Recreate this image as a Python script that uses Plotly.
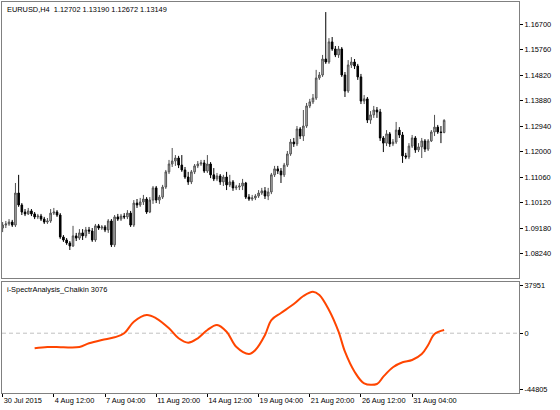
import plotly.graph_objects as go

# ---- data (EURUSD H4, bar index 0 = 30 Jul 2015 20:00) ----
bar_index = list(range(139))
opens = [1.0918,1.0929,1.0933,1.0940,1.0929,1.1047,1.1003,1.0977,1.0970,1.0981,
         1.0970,1.0959,1.0962,1.0951,1.0940,1.0944,1.0973,1.0977,1.0966,1.0885,
         1.0874,1.0863,1.0852,1.0889,1.0881,1.0900,1.0889,1.0911,1.0907,1.0874,
         1.0926,1.0918,1.0922,1.0911,1.0944,1.0856,1.0959,1.0951,1.0962,1.0959,
         1.0973,1.0929,1.1010,1.1003,1.1014,1.1025,1.0977,1.1021,1.1066,1.1021,
         1.1032,1.1069,1.1125,1.1154,1.1165,1.1176,1.1150,1.1132,1.1106,1.1088,
         1.1125,1.1147,1.1154,1.1158,1.1128,1.1154,1.1114,1.1099,1.1110,1.1088,
         1.1106,1.1077,1.1088,1.1066,1.1069,1.1073,1.1084,1.1032,1.1025,1.1029,
         1.1036,1.1047,1.1055,1.1036,1.1051,1.1114,1.1136,1.1128,1.1114,1.1150,
         1.1191,1.1235,1.1228,1.1283,1.1257,1.1294,1.1368,1.1383,1.1397,1.1471,
         1.1482,1.1541,1.1530,1.1604,1.1578,1.1556,1.1578,1.1482,1.1423,1.1519,
         1.1530,1.1515,1.1475,1.1386,1.1394,1.1316,1.1335,1.1353,1.1346,1.1250,
         1.1231,1.1265,1.1228,1.1235,1.1279,1.1261,1.1184,1.1180,1.1220,1.1250,
         1.1206,1.1217,1.1239,1.1209,1.1239,1.1272,1.1290,1.1272,1.12702]
highs = [1.0940,1.0944,1.0951,1.0948,1.1084,1.1114,1.1010,1.0988,1.0992,1.0988,
         1.0977,1.0970,1.0970,1.0959,1.0955,1.0988,1.0992,1.0984,1.0973,1.0892,
         1.0881,1.0870,1.0926,1.0900,1.0914,1.0914,1.0922,1.0922,1.0918,1.0933,
         1.0933,1.0929,1.0929,1.0951,1.0951,1.0966,1.0970,1.0970,1.0973,1.0984,
         1.0981,1.1021,1.1025,1.1029,1.1040,1.1032,1.1032,1.1073,1.1073,1.1040,
         1.1077,1.1132,1.1169,1.1213,1.1187,1.1184,1.1187,1.1143,1.1125,1.1132,
         1.1154,1.1165,1.1169,1.1169,1.1187,1.1161,1.1139,1.1121,1.1117,1.1114,
         1.1125,1.1114,1.1095,1.1077,1.1084,1.1099,1.1088,1.1043,1.1040,1.1043,
         1.1058,1.1066,1.1069,1.1066,1.1121,1.1147,1.1147,1.1139,1.1158,1.1202,
         1.1246,1.1250,1.1294,1.1290,1.1353,1.1379,1.1394,1.1412,1.1501,1.1493,
         1.1556,1.1714,1.1618,1.1622,1.1589,1.1589,1.1585,1.1493,1.1537,1.1548,
         1.1541,1.1523,1.1486,1.1408,1.1401,1.1349,1.1368,1.1364,1.1357,1.1257,
         1.1279,1.1272,1.1246,1.1309,1.1290,1.1272,1.1195,1.1231,1.1261,1.1257,
         1.1231,1.1250,1.1246,1.1246,1.1279,1.1335,1.1298,1.1294,1.13190]
lows = [1.0903,1.0918,1.0926,1.0922,1.0922,1.0996,1.0966,1.0962,1.0966,1.0962,
        1.0951,1.0951,1.0944,1.0933,1.0933,1.0937,1.0966,1.0959,1.0878,1.0867,
        1.0856,1.0837,1.0848,1.0870,1.0874,1.0874,1.0881,1.0896,1.0867,1.0867,
        1.0911,1.0911,1.0903,1.0900,1.0848,1.0848,1.0944,1.0944,1.0951,1.0951,
        1.0922,1.0922,1.0992,1.0996,1.1003,1.0970,1.0973,1.1007,1.1010,1.1007,
        1.1025,1.1062,1.1117,1.1143,1.1147,1.1139,1.1125,1.1099,1.1077,1.1080,
        1.1117,1.1139,1.1147,1.1121,1.1121,1.1102,1.1091,1.1091,1.1077,1.1073,
        1.1058,1.1069,1.1055,1.1058,1.1058,1.1058,1.1025,1.1018,1.1018,1.1021,
        1.1029,1.1040,1.1025,1.1021,1.1043,1.1106,1.1117,1.1084,1.1106,1.1143,
        1.1184,1.1217,1.1220,1.1246,1.1239,1.1287,1.1360,1.1375,1.1390,1.1464,
        1.1475,1.1523,1.1523,1.1571,1.1548,1.1545,1.1475,1.1401,1.1416,1.1508,
        1.1504,1.1464,1.1375,1.1375,1.1305,1.1302,1.1324,1.1324,1.1239,1.1198,
        1.1220,1.1217,1.1220,1.1228,1.1250,1.1158,1.1172,1.1172,1.1213,1.1195,
        1.1198,1.1176,1.1198,1.1202,1.1235,1.1257,1.1265,1.1231,1.12672]
closes = [1.0929,1.0933,1.0940,1.0929,1.1047,1.1003,1.0977,1.0970,1.0981,1.0970,
          1.0959,1.0962,1.0951,1.0940,1.0944,1.0973,1.0977,1.0966,1.0885,1.0874,
          1.0863,1.0852,1.0889,1.0881,1.0900,1.0889,1.0911,1.0907,1.0874,1.0926,
          1.0918,1.0922,1.0911,1.0944,1.0856,1.0959,1.0951,1.0962,1.0959,1.0973,
          1.0929,1.1010,1.1003,1.1014,1.1025,1.0977,1.1021,1.1066,1.1021,1.1032,
          1.1069,1.1125,1.1154,1.1165,1.1176,1.1150,1.1132,1.1106,1.1088,1.1125,
          1.1147,1.1154,1.1158,1.1128,1.1154,1.1114,1.1099,1.1110,1.1088,1.1106,
          1.1077,1.1088,1.1066,1.1069,1.1073,1.1084,1.1032,1.1025,1.1029,1.1036,
          1.1047,1.1055,1.1036,1.1051,1.1114,1.1136,1.1128,1.1114,1.1150,1.1191,
          1.1235,1.1228,1.1283,1.1257,1.1294,1.1368,1.1383,1.1397,1.1471,1.1482,
          1.1541,1.1530,1.1604,1.1578,1.1556,1.1578,1.1482,1.1423,1.1519,1.1530,
          1.1515,1.1475,1.1386,1.1394,1.1316,1.1335,1.1353,1.1346,1.1250,1.1231,
          1.1265,1.1228,1.1235,1.1279,1.1261,1.1184,1.1180,1.1220,1.1250,1.1206,
          1.1217,1.1239,1.1209,1.1239,1.1272,1.1290,1.1272,1.1270,1.13149]

ind_index = [10,14,19,24,27,31,35,38,41,45,48,52,55,58,61,64,67,70,73,77,79,82,84,
             87,91,94,97,99,102,105,107,110,113,117,119,122,125,128,131,133,135,138]
ind_values = [-12035,-10999,-11238,-10999,-8050,-5420,-3268,-80,9166,14505,11875,
              3905,-4065,-7572,-4065,2550,6535,1196,-10760,-16578,-13390,-1435,
              10520,16100,23272,29648,33076,30445,18490,1196,-14745,-30685,-39930,
              -40488,-34670,-27178,-23193,-21360,-16578,-9405,-638,2550]

time_tick_index = [0, 16, 32, 48, 64, 80, 96, 112, 128]
time_tick_text = ["30 Jul 2015", "4 Aug 12:00", "7 Aug 04:00", "11 Aug 20:00",
                  "14 Aug 12:00", "19 Aug 04:00", "21 Aug 20:00", "26 Aug 12:00",
                  "31 Aug 04:00"]
price_ticks = [1.16700, 1.15760, 1.14820, 1.13880, 1.12940,
               1.12000, 1.11060, 1.10120, 1.09180, 1.08240]
ind_ticks = [37951, 0, -44805]

header_text = "EURUSD,H4  1.12702 1.13190 1.12672 1.13149"
ind_title = "i-SpectrAnalysis_Chaikin 3076"

FONT = "Liberation Sans"
FS = 7.4
frame = "#808080"

fig = go.Figure()
fig.add_trace(go.Candlestick(
    x=bar_index, open=opens, high=highs, low=lows, close=closes,
    increasing=dict(line=dict(color="#505050", width=1), fillcolor="#c0c0c0"),
    decreasing=dict(line=dict(color="#000000", width=1), fillcolor="#000000"),
    xaxis="x", yaxis="y", showlegend=False, hoverinfo="skip"))
fig.add_trace(go.Scatter(
    x=ind_index, y=ind_values, mode="lines",
    line=dict(color="#FF4500", width=2, shape="spline"),
    xaxis="x2", yaxis="y2", showlegend=False, hoverinfo="skip"))

xr = [-0.2, 161.4]
fig.update_layout(
    width=560, height=410,
    margin=dict(l=2, r=41, t=2, b=17, autoexpand=False),
    paper_bgcolor="white", plot_bgcolor="white",
    font=dict(family=FONT, size=FS, color="black"),
    xaxis=dict(domain=[0, 1], range=xr, anchor="y", showticklabels=False,
               showgrid=False, zeroline=False, ticks="",
               showline=True, mirror=True, linecolor=frame, linewidth=1,
               rangeslider=dict(visible=False)),
    yaxis=dict(domain=[0.2941, 1.0], range=[1.07338, 1.17511], side="right",
               anchor="x", tickvals=price_ticks, tickformat=".5f",
               ticks="outside", ticklen=3, tickcolor="black",
               showgrid=False, zeroline=False, automargin=False,
               showline=True, mirror=True, linecolor=frame, linewidth=1,
               tickfont=dict(family=FONT, size=FS)),
    xaxis2=dict(domain=[0, 1], range=xr, anchor="y2", matches="x",
                tickvals=time_tick_index, ticktext=time_tick_text,
                tickangle=0, automargin=False,
                ticks="outside", ticklen=3, tickcolor="black",
                ticklabelposition="outside right",
                showgrid=False, zeroline=False,
                showline=True, mirror=True, linecolor=frame, linewidth=1,
                tickfont=dict(family=FONT, size=FS)),
    yaxis2=dict(domain=[0, 0.2839], range=[-47674, 40820], side="right",
                anchor="x2", tickvals=ind_ticks,
                ticktext=[str(v) for v in ind_ticks], automargin=False,
                ticks="outside", ticklen=3, tickcolor="black",
                showgrid=False, zeroline=False,
                showline=True, mirror=True, linecolor=frame, linewidth=1,
                tickfont=dict(family=FONT, size=FS)),
    shapes=[dict(type="line", xref="x2 domain", yref="y2", x0=0, x1=1,
                 y0=ind_ticks[1], y1=ind_ticks[1],
                 line=dict(color="#c0c0c0", width=1, dash="4px,3px"), layer="below")],
    annotations=[
        dict(text=header_text, xref="paper", yref="paper", x=0.005, y=1.0,
             xanchor="left", yanchor="top", yshift=-1, showarrow=False,
             font=dict(family=FONT, size=FS)),
        dict(text=ind_title, xref="paper", yref="paper", x=0.005, y=0.2839,
             xanchor="left", yanchor="top", yshift=-1, showarrow=False,
             font=dict(family=FONT, size=FS)),
    ],
)

fig.write_html(
    "out.html",
    config={"displayModeBar": False},
    post_script="document.body.style.margin='0';document.body.style.padding='0';"
                "window.dispatchEvent(new Event('resize'));",
)
